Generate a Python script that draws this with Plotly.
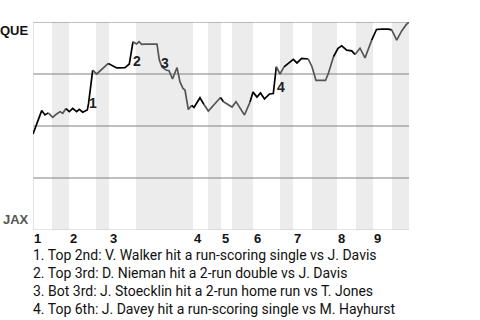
import plotly.graph_objects as go
from bisect import bisect_right

# ---- data ----
home_team = "QUE"
away_team = "JAX"
# progress along the game (arbitrary units) and QUE win probability
wp_x = [0, 8.7, 12, 15.3, 19.7, 23.7, 27, 29.7, 33, 36.3, 39.7, 43.7, 46.3, 49.7, 54.3, 55.5,
        59.7, 63.7, 75.3, 83.7, 92, 96.3, 100, 103.5, 106, 108.7, 112, 124, 126.3, 129, 133,
        136, 139.5, 144, 147, 150, 152, 155.3, 158.7, 161, 167, 171, 175.3, 187.5, 190.5,
        199, 203, 211.5, 217, 220, 224, 227.5, 231.5, 236.5, 240.3, 243.3, 247, 251, 260.3,
        264, 268.7, 275.3, 279, 283, 292.5, 295.5, 300.5, 305, 308.7, 313.7, 318.7, 322,
        327, 332, 338.7, 343.5, 348.7, 355.3, 358.7, 363.7, 368.7, 373, 376]
wp_y = [0.462, 0.574, 0.553, 0.563, 0.542, 0.558, 0.569, 0.561, 0.584, 0.569, 0.585, 0.569,
        0.580, 0.566, 0.577, 0.606, 0.769, 0.750, 0.801, 0.779, 0.781, 0.798, 0.905, 0.894,
        0.905, 0.892, 0.894, 0.894, 0.817, 0.784, 0.769, 0.766, 0.726, 0.781, 0.712, 0.680,
        0.673, 0.579, 0.599, 0.589, 0.636, 0.603, 0.572, 0.637, 0.617, 0.591, 0.617, 0.553,
        0.615, 0.663, 0.639, 0.659, 0.630, 0.654, 0.656, 0.785, 0.750, 0.784, 0.820, 0.803,
        0.825, 0.822, 0.785, 0.719, 0.719, 0.755, 0.833, 0.873, 0.885, 0.865, 0.861, 0.844,
        0.874, 0.827, 0.913, 0.964, 0.966, 0.966, 0.962, 0.913, 0.957, 0.986, 1.0]
# half-inning start positions (top, bottom alternating) and game end
half_starts = [0, 19, 36, 63, 76, 103, 160, 175, 188, 199, 220, 247, 260, 279, 304, 323, 340, 359]
game_end = 376
inning_labels = ["1", "2", "3", "4", "5", "6", "7", "8", "9"]
# key events: label, x, y
event_labels = ["1", "2", "3", "4"]
event_x = [59.7, 103.7, 132, 248]
event_y = [0.612, 0.814, 0.804, 0.686]
event_notes = [
    "1. Top 2nd: V. Walker hit a run-scoring single vs J. Davis",
    "2. Top 3rd: D. Nieman hit a 2-run double vs J. Davis",
    "3. Bot 3rd: J. Stoecklin hit a 2-run home run vs T. Jones",
    "4. Top 6th: J. Davey hit a run-scoring single vs M. Hayhurst",
]

TOP_COLOR = "#000000"
BOT_COLOR = "#555555"
BAND = "#ececec"
GRID = "#808080"
AXIS = "#c8c8c8"

fig = go.Figure()


def half_of(x):
    return max(0, bisect_right(half_starts, x) - 1)


# line split by half-inning of each segment's end point
runs = []
for i in range(1, len(wp_x)):
    h = half_of(wp_x[i])
    if runs and runs[-1][0] == h:
        runs[-1][1].append(i)
    else:
        runs.append([h, [i - 1, i]])
for h, idx in runs:
    fig.add_trace(go.Scatter(
        x=[wp_x[k] for k in idx], y=[wp_y[k] for k in idx], mode="lines",
        line=dict(color=TOP_COLOR if h % 2 == 0 else BOT_COLOR, width=1.7),
        hoverinfo="skip", showlegend=False))

shapes = []
ends = half_starts[1:] + [game_end]
for h, (a, b) in enumerate(zip(half_starts, ends)):
    if h % 2 == 1:
        shapes.append(dict(type="rect", xref="x", yref="y", x0=a, x1=b, y0=0, y1=1,
                           fillcolor=BAND, line=dict(width=0), layer="below"))
for gy in [0.25, 0.5, 0.75, 1.0]:
    shapes.append(dict(type="line", xref="x", yref="y", x0=0, x1=game_end, y0=gy, y1=gy,
                       line=dict(color=GRID, width=1), layer="below"))
shapes.append(dict(type="line", xref="x", yref="y", x0=0, x1=game_end, y0=0, y1=0,
                   line=dict(color=AXIS, width=1), layer="below"))
shapes.append(dict(type="line", xref="x", yref="y", x0=0, x1=0, y0=0, y1=1,
                   line=dict(color=AXIS, width=1), layer="below"))

ann = []
BOLD_FAMILY = "Liberation Sans, Arial, sans-serif"
ann.append(dict(x=0, y=1, xref="x", yref="y", text="<b>%s</b>" % home_team, showarrow=False,
                xanchor="right", yanchor="top", xshift=-2, yshift=1,
                font=dict(family=BOLD_FAMILY, size=13, color="#111111")))
ann.append(dict(x=0, y=0, xref="x", yref="y", text="<b>%s</b>" % away_team, showarrow=False,
                xanchor="right", yanchor="bottom", xshift=-2, yshift=1,
                font=dict(family=BOLD_FAMILY, size=13, color="#555555")))
for lab, h in zip(inning_labels, half_starts[0::2]):
    ann.append(dict(x=h, y=0, xref="x", yref="y", text="<b>%s</b>" % lab, showarrow=False,
                    xanchor="left", yanchor="top", xshift=-1, yshift=1,
                    font=dict(family=BOLD_FAMILY, size=13, color="#111111")))
for lab, ex, ey in zip(event_labels, event_x, event_y):
    ann.append(dict(x=ex, y=ey, xref="x", yref="y", text="<b>%s</b>" % lab, showarrow=False,
                    xanchor="center", yanchor="middle",
                    font=dict(family=BOLD_FAMILY, size=14, color="#222222")))
for k, note in enumerate(event_notes):
    ann.append(dict(x=0, y=0, xref="x", yref="y", text=note, showarrow=False,
                    xanchor="left", yanchor="middle", xshift=-2, yshift=-24.5 - 18 * k,
                    font=dict(family="Roboto, sans-serif", size=14, color="#111111")))

fig.update_layout(
    width=480, height=320,
    margin=dict(l=33, r=71, t=22, b=90),
    paper_bgcolor="white", plot_bgcolor="white",
    xaxis=dict(range=[0, game_end], showgrid=False, zeroline=False, showticklabels=False,
               showline=False, fixedrange=True),
    yaxis=dict(range=[0, 1], showgrid=False, zeroline=False, showticklabels=False,
               showline=False, fixedrange=True),
    shapes=shapes, annotations=ann, showlegend=False,
)

fig.write_html("out.html", config={"displayModeBar": False})
